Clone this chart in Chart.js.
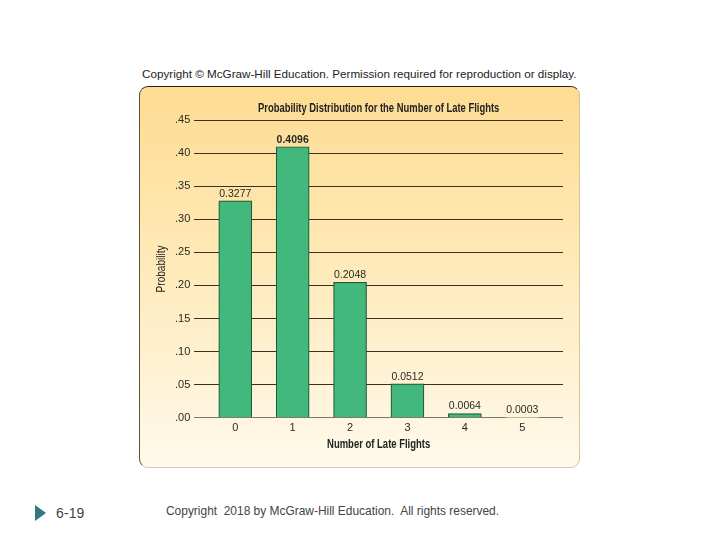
<!DOCTYPE html>
<html><head><meta charset="utf-8">
<script src="https://cdn.jsdelivr.net/npm/chart.js@4/dist/chart.umd.min.js"></script>
<style>
html,body{margin:0;padding:0;background:#fff;width:720px;height:540px;overflow:hidden}
#panel{position:absolute;left:139px;top:86px;width:441px;height:381.5px;box-sizing:border-box;
background:linear-gradient(#fddc92,#fee6ae 35%,#fff0cf 70%,#fffaec);
border-top:1.5px solid #2c2412;border-left:1.2px solid #5b5238;border-right:1px solid #d8c690;border-bottom:1px solid #cfcbb6;border-radius:9px}
canvas{position:absolute;left:0;top:0}
.t{position:absolute;white-space:pre;font-family:"Liberation Sans",sans-serif}
#head{left:142px;top:67px;font-size:11.68px;line-height:14px;color:#222}
#foot{left:166px;top:504px;font-size:11.95px;line-height:14px;color:#444}
#num{left:56px;top:505px;font-size:14px;line-height:16px;color:#444;letter-spacing:.1px}
#arrow{position:absolute;left:35px;top:505px;width:0;height:0;border-left:11px solid #2f7a80;border-top:8.5px solid transparent;border-bottom:8.5px solid transparent}
</style></head><body>
<div id="panel"></div>
<div class="t" id="head">Copyright © McGraw-Hill Education. Permission required for reproduction or display.</div>
<div id="arrow"></div>
<div class="t" id="num">6-19</div>
<div class="t" id="foot">Copyright  2018 by McGraw-Hill Education.  All rights reserved.</div>
<canvas id="c" width="720" height="540"></canvas>
<script>
const categories = [0, 1, 2, 3, 4, 5];
const probabilities = [0.3277, 0.4096, 0.2048, 0.0512, 0.0064, 0.0003];
const chartTitle = "Probability Distribution for the Number of Late Flights";
const xAxisTitle = "Number of Late Flights";
const yAxisTitle = "Probability";
const SANS = '"Liberation Sans",sans-serif';

// The reference sets its titles in a condensed face; squeeze the installed sans to match.
function condensed(ctx, text, x, y, squeeze, font, angle) {
  ctx.save();
  ctx.translate(x, y);
  if (angle) ctx.rotate(angle);
  ctx.scale(squeeze, 1);
  ctx.font = font;
  ctx.textAlign = 'center';
  ctx.textBaseline = 'middle';
  ctx.fillStyle = '#222';
  ctx.fillText(text, 0, 0);
  ctx.restore();
}

const annotations = {
  id: 'annotations',
  afterDatasetsDraw(chart) {
    const ctx = chart.ctx, xs = chart.scales.x, ys = chart.scales.y, a = chart.chartArea;
    ctx.save();
    ctx.textAlign = 'center';
    ctx.textBaseline = 'middle';
    ctx.fillStyle = '#2a2a22';
    probabilities.forEach((v, i) => {
      ctx.font = (v === Math.max(...probabilities) ? 'bold ' : '') + '10.5px ' + SANS;
      ctx.fillText(v.toFixed(4), xs.getPixelForValue(categories[i]), ys.getPixelForValue(v) - 7);
    });
    ctx.restore();
    const cx = (a.left + a.right) / 2;
    condensed(ctx, chartTitle, cx, a.top - 11.5, 0.785, 'bold 12px ' + SANS);
    condensed(ctx, xAxisTitle, cx, a.bottom + 27, 0.79, 'bold 12px ' + SANS);
    condensed(ctx, yAxisTitle, 162, (a.top + a.bottom) / 2, 0.84, '12px ' + SANS, -Math.PI / 2);
  }
};

new Chart(document.getElementById('c'), {
  type: 'bar',
  data: { datasets: [{
    data: categories.map((c, i) => ({ x: c, y: probabilities[i] })),
    backgroundColor: ctx => ctx.raw.y < 0.001 ? '#d8d2b0' : '#43b87c',
    borderColor: ctx => ctx.raw.y < 0.001 ? '#d8d2b0' : '#1f5a3c',
    borderWidth: 1.2,
    borderSkipped: 'bottom',
    barThickness: 33
  }]},
  plugins: [annotations],
  options: {
    responsive: false,
    animation: false,
    layout: { padding: { left: 171, right: 157, top: 120, bottom: 101 } },
    plugins: { legend: { display: false }, tooltip: { enabled: false } },
    scales: {
      x: {
        type: 'linear', offset: false, min: -0.714, max: 5.71,
        afterBuildTicks: axis => { axis.ticks = categories.map(v => ({ value: v })); },
        grid: { display: false, drawTicks: false },
        border: { display: false },
        ticks: { color: '#2a2a22', padding: 4, maxRotation: 0, autoSkip: false,
                 font: { family: SANS, size: 11 }, callback: v => String(v) }
      },
      y: {
        min: 0, max: 0.45,
        grid: { drawTicks: false, lineWidth: 1, color: ctx => ctx.tick.value === 0 ? '#7d7860' : '#3a3220' },
        border: { display: false },
        ticks: { stepSize: 0.05, padding: 4, color: '#2a2a22',
                 font: { family: SANS, size: 11 },
                 callback: v => v.toFixed(2).replace(/^0/, '') }
      }
    }
  }
});
</script>
</body></html>
